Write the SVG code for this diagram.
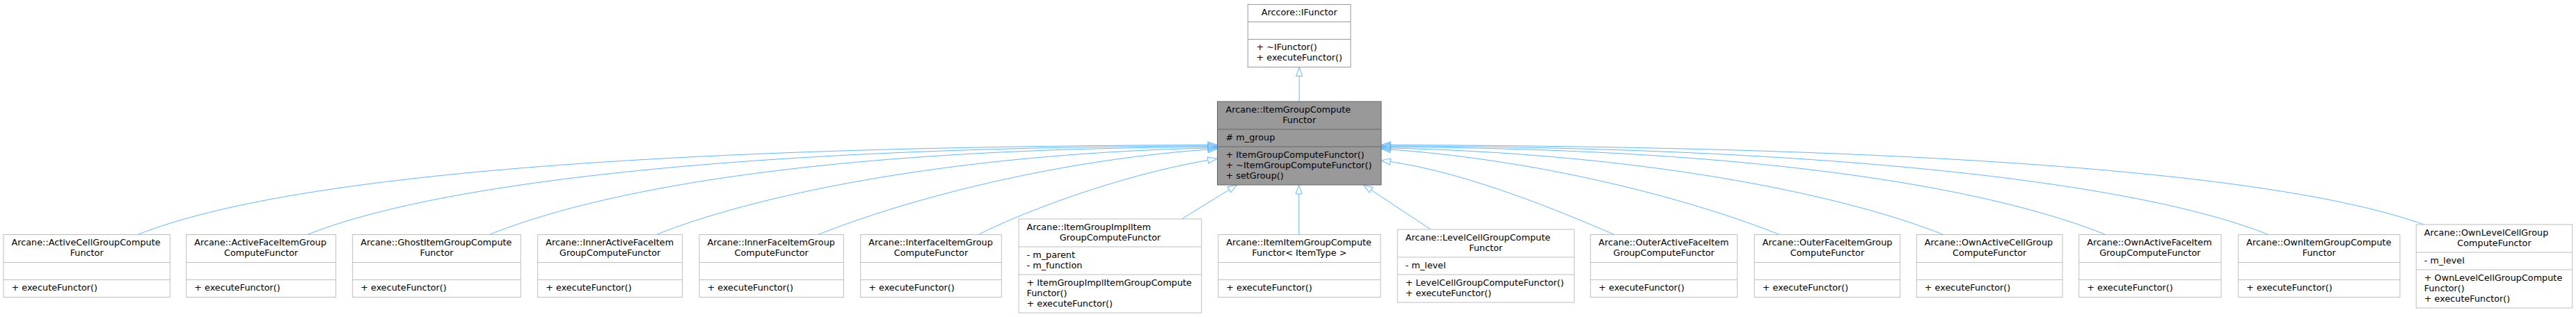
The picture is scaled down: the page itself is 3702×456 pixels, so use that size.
<svg xmlns="http://www.w3.org/2000/svg" width="3702" height="456" viewBox="0 0 3702 456">
<style>
text{font-family:"DejaVu Sans","Liberation Sans",sans-serif;font-size:12.8px;fill:#000}
.c{text-anchor:middle}
.box{fill:#fff;stroke:#bfbfbf;stroke-width:1}
.sep{stroke:#bfbfbf;stroke-width:1}
.base{fill:#fff;stroke:#999999;stroke-width:1}
.bsep{stroke:#999999;stroke-width:1}
.main{fill:#999999;stroke:#666666;stroke-width:1}
.msep{stroke:#666666;stroke-width:1}
.e{fill:none;stroke:#63b8ff;stroke-width:1;marker-end:url(#tri)}
</style>
<defs>
<marker id="tri" viewBox="-1 -6 16 12" refX="0" refY="0" markerWidth="16" markerHeight="12" markerUnits="userSpaceOnUse" orient="auto">
<path d="M0,-4.5 L13,0 L0,4.5 Z" fill="none" stroke="#63b8ff" stroke-width="1"/>
</marker>
</defs>
<rect width="3702" height="456" fill="#fff"/>
<g id="edges">
<path class="e" d="M1867.2,146 L1867.2,109.5"/>
<path class="e" d="M197.7,337.5 C400,257 890,211 1736,208.5"/>
<path class="e" d="M441.7,337.5 C612,269 1022,212 1736,210"/>
<path class="e" d="M703.3,337.5 C853,277 1163,214 1736,211.5"/>
<path class="e" d="M943.3,337.5 C1073,285 1350,222 1736,213"/>
<path class="e" d="M1175.7,337.5 C1286,293 1500,232 1736,215"/>
<path class="e" d="M1406,337.5 C1480,300 1620,250 1736,230.5"/>
<path class="e" d="M1698.3,315 L1766.4,272.9"/>
<path class="e" d="M1866.7,337.5 L1866.7,279"/>
<path class="e" d="M2056,330 L1970.4,273.2"/>
<path class="e" d="M2320,337.5 C2240,303 2110,249 1998,232.5"/>
<path class="e" d="M2557.3,337.5 C2447,293 2234,232 1998,215"/>
<path class="e" d="M2792.7,337.5 C2663,285 2384,222 1998,213"/>
<path class="e" d="M3026,337.5 C2876,277 2566,214 1998,211.5"/>
<path class="e" d="M3260,337.5 C3090,269 2680,212 1998,210"/>
<path class="e" d="M3483.3,323 C3283,251 2793,211 1998,208.5"/>
</g>
<g id="IFunctor">
<rect class="base" x="1793.3" y="6.5" width="147.7" height="90"/>
<line class="bsep" x1="1793.3" y1="31.5" x2="1941" y2="31.5"/>
<line class="bsep" x1="1793.3" y1="56.5" x2="1941" y2="56.5"/>
<text class="c" x="1867.2" y="22">Arccore::IFunctor</text>
<text x="1805.5" y="72">+ ~IFunctor()</text>
<text x="1805.5" y="87">+ executeFunctor()</text>
</g>
<g id="ItemGroupComputeFunctor">
<rect class="main" x="1749.5" y="146" width="235.5" height="120"/>
<line class="msep" x1="1749.5" y1="186" x2="1985" y2="186"/>
<line class="msep" x1="1749.5" y1="211" x2="1985" y2="211"/>
<text x="1761.5" y="161.5">Arcane::ItemGroupCompute</text>
<text class="c" x="1867.2" y="176.5">Functor</text>
<text x="1761.5" y="201.5"># m_group</text>
<text x="1761.5" y="226.5">+ ItemGroupComputeFunctor()</text>
<text x="1761.5" y="241.5">+ ~ItemGroupComputeFunctor()</text>
<text x="1761.5" y="256.5">+ setGroup()</text>
</g>
<g id="ActiveCellGroupComputeFunctor">
<rect class="box" x="5" y="337.5" width="239.3" height="90"/>
<line class="sep" x1="5" y1="377.5" x2="244.3" y2="377.5"/>
<line class="sep" x1="5" y1="402.5" x2="244.3" y2="402.5"/>
<text x="16.5" y="353">Arcane::ActiveCellGroupCompute</text>
<text class="c" x="124.65" y="368">Functor</text>
<text x="16.5" y="418">+ executeFunctor()</text>
</g>
<g id="ActiveFaceItemGroupComputeFunctor">
<rect class="box" x="267.7" y="337.5" width="215" height="90"/>
<line class="sep" x1="267.7" y1="377.5" x2="482.7" y2="377.5"/>
<line class="sep" x1="267.7" y1="402.5" x2="482.7" y2="402.5"/>
<text x="279.2" y="353">Arcane::ActiveFaceItemGroup</text>
<text class="c" x="375.2" y="368">ComputeFunctor</text>
<text x="279.2" y="418">+ executeFunctor()</text>
</g>
<g id="GhostItemGroupComputeFunctor">
<rect class="box" x="506.7" y="337.5" width="241.6" height="90"/>
<line class="sep" x1="506.7" y1="377.5" x2="748.3" y2="377.5"/>
<line class="sep" x1="506.7" y1="402.5" x2="748.3" y2="402.5"/>
<text x="518.2" y="353">Arcane::GhostItemGroupCompute</text>
<text class="c" x="627.5" y="368">Functor</text>
<text x="518.2" y="418">+ executeFunctor()</text>
</g>
<g id="InnerActiveFaceItemGroupComputeFunctor">
<rect class="box" x="772.7" y="337.5" width="208" height="90"/>
<line class="sep" x1="772.7" y1="377.5" x2="980.7" y2="377.5"/>
<line class="sep" x1="772.7" y1="402.5" x2="980.7" y2="402.5"/>
<text x="784.2" y="353">Arcane::InnerActiveFaceItem</text>
<text class="c" x="876.7" y="368">GroupComputeFunctor</text>
<text x="784.2" y="418">+ executeFunctor()</text>
</g>
<g id="InnerFaceItemGroupComputeFunctor">
<rect class="box" x="1005" y="337.5" width="207.3" height="90"/>
<line class="sep" x1="1005" y1="377.5" x2="1212.3" y2="377.5"/>
<line class="sep" x1="1005" y1="402.5" x2="1212.3" y2="402.5"/>
<text x="1016.5" y="353">Arcane::InnerFaceItemGroup</text>
<text class="c" x="1108.65" y="368">ComputeFunctor</text>
<text x="1016.5" y="418">+ executeFunctor()</text>
</g>
<g id="InterfaceItemGroupComputeFunctor">
<rect class="box" x="1236.7" y="337.5" width="202.6" height="90"/>
<line class="sep" x1="1236.7" y1="377.5" x2="1439.3" y2="377.5"/>
<line class="sep" x1="1236.7" y1="402.5" x2="1439.3" y2="402.5"/>
<text x="1248.2" y="353">Arcane::InterfaceItemGroup</text>
<text class="c" x="1338" y="368">ComputeFunctor</text>
<text x="1248.2" y="418">+ executeFunctor()</text>
</g>
<g id="ItemGroupImplItemGroupComputeFunctor">
<rect class="box" x="1464" y="315" width="262.7" height="135"/>
<line class="sep" x1="1464" y1="355" x2="1726.7" y2="355"/>
<line class="sep" x1="1464" y1="395" x2="1726.7" y2="395"/>
<text x="1475.5" y="330.5">Arcane::ItemGroupImplItem</text>
<text class="c" x="1595.35" y="345.5">GroupComputeFunctor</text>
<text x="1475.5" y="370.5">- m_parent</text>
<text x="1475.5" y="385.5">- m_function</text>
<text x="1475.5" y="410.5">+ ItemGroupImplItemGroupCompute</text>
<text x="1475.5" y="425.5">Functor()</text>
<text x="1475.5" y="440.5">+ executeFunctor()</text>
</g>
<g id="ItemItemGroupComputeFunctor">
<rect class="box" x="1750.7" y="337.5" width="233.3" height="90"/>
<line class="sep" x1="1750.7" y1="377.5" x2="1984" y2="377.5"/>
<line class="sep" x1="1750.7" y1="402.5" x2="1984" y2="402.5"/>
<text x="1762.2" y="353">Arcane::ItemItemGroupCompute</text>
<text class="c" x="1867.35" y="368">Functor&lt; ItemType &gt;</text>
<text x="1762.2" y="418">+ executeFunctor()</text>
</g>
<g id="LevelCellGroupComputeFunctor">
<rect class="box" x="2008.3" y="330" width="254" height="105"/>
<line class="sep" x1="2008.3" y1="370" x2="2262.3" y2="370"/>
<line class="sep" x1="2008.3" y1="395" x2="2262.3" y2="395"/>
<text x="2019.8" y="345.5">Arcane::LevelCellGroupCompute</text>
<text class="c" x="2135.3" y="360.5">Functor</text>
<text x="2019.8" y="385.5">- m_level</text>
<text x="2019.8" y="410.5">+ LevelCellGroupComputeFunctor()</text>
<text x="2019.8" y="425.5">+ executeFunctor()</text>
</g>
<g id="OuterActiveFaceItemGroupComputeFunctor">
<rect class="box" x="2285.7" y="337.5" width="211" height="90"/>
<line class="sep" x1="2285.7" y1="377.5" x2="2496.7" y2="377.5"/>
<line class="sep" x1="2285.7" y1="402.5" x2="2496.7" y2="402.5"/>
<text x="2297.2" y="353">Arcane::OuterActiveFaceItem</text>
<text class="c" x="2391.2" y="368">GroupComputeFunctor</text>
<text x="2297.2" y="418">+ executeFunctor()</text>
</g>
<g id="OuterFaceItemGroupComputeFunctor">
<rect class="box" x="2521.3" y="337.5" width="209.4" height="90"/>
<line class="sep" x1="2521.3" y1="377.5" x2="2730.7" y2="377.5"/>
<line class="sep" x1="2521.3" y1="402.5" x2="2730.7" y2="402.5"/>
<text x="2532.8" y="353">Arcane::OuterFaceItemGroup</text>
<text class="c" x="2626" y="368">ComputeFunctor</text>
<text x="2532.8" y="418">+ executeFunctor()</text>
</g>
<g id="OwnActiveCellGroupComputeFunctor">
<rect class="box" x="2754.3" y="337.5" width="209.7" height="90"/>
<line class="sep" x1="2754.3" y1="377.5" x2="2964" y2="377.5"/>
<line class="sep" x1="2754.3" y1="402.5" x2="2964" y2="402.5"/>
<text x="2765.8" y="353">Arcane::OwnActiveCellGroup</text>
<text class="c" x="2859.15" y="368">ComputeFunctor</text>
<text x="2765.8" y="418">+ executeFunctor()</text>
</g>
<g id="OwnActiveFaceItemGroupComputeFunctor">
<rect class="box" x="2987.7" y="337.5" width="204.3" height="90"/>
<line class="sep" x1="2987.7" y1="377.5" x2="3192" y2="377.5"/>
<line class="sep" x1="2987.7" y1="402.5" x2="3192" y2="402.5"/>
<text x="2999.2" y="353">Arcane::OwnActiveFaceItem</text>
<text class="c" x="3089.85" y="368">GroupComputeFunctor</text>
<text x="2999.2" y="418">+ executeFunctor()</text>
</g>
<g id="OwnItemGroupComputeFunctor">
<rect class="box" x="3216.7" y="337.5" width="232.3" height="90"/>
<line class="sep" x1="3216.7" y1="377.5" x2="3449" y2="377.5"/>
<line class="sep" x1="3216.7" y1="402.5" x2="3449" y2="402.5"/>
<text x="3228.2" y="353">Arcane::OwnItemGroupCompute</text>
<text class="c" x="3332.85" y="368">Functor</text>
<text x="3228.2" y="418">+ executeFunctor()</text>
</g>
<g id="OwnLevelCellGroupComputeFunctor">
<rect class="box" x="3472.3" y="323" width="224.4" height="120"/>
<line class="sep" x1="3472.3" y1="363" x2="3696.7" y2="363"/>
<line class="sep" x1="3472.3" y1="388" x2="3696.7" y2="388"/>
<text x="3483.8" y="338.5">Arcane::OwnLevelCellGroup</text>
<text class="c" x="3584.5" y="353.5">ComputeFunctor</text>
<text x="3483.8" y="378.5">- m_level</text>
<text x="3483.8" y="403.5">+ OwnLevelCellGroupCompute</text>
<text x="3483.8" y="418.5">Functor()</text>
<text x="3483.8" y="433.5">+ executeFunctor()</text>
</g>
</svg>
